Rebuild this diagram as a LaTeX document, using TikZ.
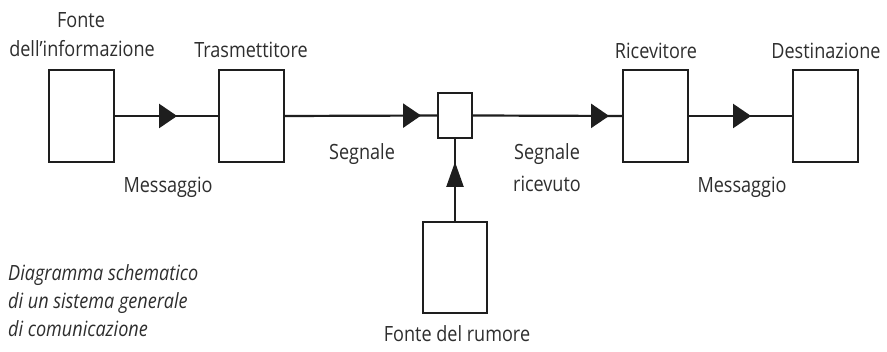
\documentclass[tikz,border=0pt]{standalone}
\usepackage{fontspec}
\setmainfont{Open Sans}[FakeStretch=0.86]
\usetikzlibrary{arrows.meta,decorations.markings}
\definecolor{ink}{HTML}{1E1E1E}
\definecolor{txt}{HTML}{2E2E2E}
\begin{document}
\begin{tikzpicture}[x=1pt,y=-1pt,
  blk/.style={draw=ink,line width=2.2pt,fill=white,inner sep=0pt,minimum width=65pt,minimum height=92pt},
  lbl/.style={text=txt,inner sep=0pt,anchor=base,font=\fontsize{21}{26}\selectfont},
  ilbl/.style={lbl,anchor=base west,font=\fontsize{21}{26}\selectfont\itshape},
  wire/.style={draw=ink,line width=2.2pt},
  hmark/.style={postaction={decorate,decoration={markings,mark=at position #1 with {\arrow{Triangle[length=18pt,width=24pt]}}}}},
  vmark/.style={postaction={decorate,decoration={markings,mark=at position #1 with {\arrow{Triangle[length=25pt,width=17pt]}}}}}
]
\useasboundingbox (0,0) rectangle (887,352);
\fill[white] (0,0) rectangle (887,352);
% blocks
\node[blk] (src) at (81.5,116) {};
\node[blk] (tx) at (251.5,116) {};
\node[blk,minimum width=34pt,minimum height=45pt] (mix) at (455,115.5) {};
\node[blk] (rx) at (655.5,116) {};
\node[blk] (dst) at (825.5,116) {};
\node[blk,minimum width=64pt,minimum height=91pt] (noise) at (455,267.5) {};
% connectors
\draw[wire,hmark=62pt] (src.east) -- (tx.west);
\draw[wire,hmark=136pt] (tx.east) -- (mix.west);
\draw[wire,hmark=136pt] (mix.east) -- (rx.west);
\draw[wire,hmark=62pt] (rx.east) -- (dst.west);
\draw[wire,vmark=59pt] (noise.north) -- (mix.south);
% labels
\node[lbl] (l1a) at (81,28) {Fonte};
\node[lbl] (l1b) at (82,57) {dell’informazione};
\node[lbl] (l2) at (251,58) {Trasmettitore};
\node[lbl] (l3) at (168,193) {Messaggio};
\node[lbl] (l4) at (362,160) {Segnale};
\node[lbl] (l5a) at (547,160) {Segnale};
\node[lbl] (l5b) at (547,192) {ricevuto};
\node[lbl] (l6) at (656,59) {Ricevitore};
\node[lbl] (l7) at (826,59) {Destinazione};
\node[lbl] (l8) at (742,193) {Messaggio};
\node[lbl] (l9) at (457,342) {Fonte del rumore};
\node[ilbl] (c1) at (8,281) {Diagramma schematico};
\node[ilbl] (c2) at (8,309) {di un sistema generale};
\node[ilbl] (c3) at (8,337) {di comunicazione};
\end{tikzpicture}
\end{document}
